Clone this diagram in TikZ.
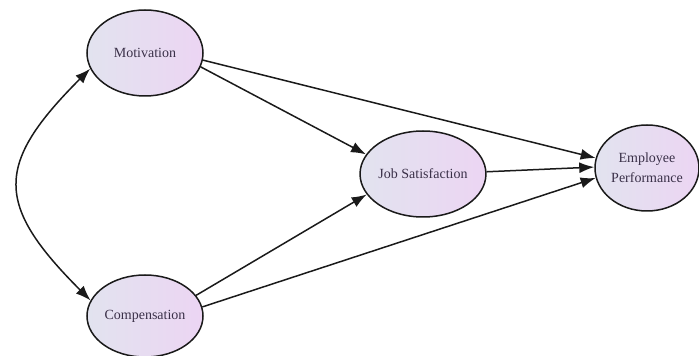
\documentclass[tikz,border=0pt]{standalone}
\usepackage{fontspec}
\setmainfont{Liberation Serif}
\usetikzlibrary{positioning, shapes.geometric, arrows.meta}
\definecolor{rim}{HTML}{1A1A1A}
\definecolor{fillL}{HTML}{E2E3EF}
\definecolor{fillR}{HTML}{ECD5F3}
\definecolor{label}{HTML}{3A3048}

\begin{document}
\begin{tikzpicture}[x=1pt, y=1pt,
    construct/.style={ellipse, draw=rim, line width=1.5pt, left color=fillL, right color=fillR,
                      minimum width=116pt, minimum height=86pt, inner sep=0pt, align=center,
                      text=label, font=\fontsize{14}{20}\selectfont},
    path/.style={draw=rim, line width=1.5pt, -{Latex[length=15pt, width=11pt]}}]
  \useasboundingbox (0,0) rectangle (699,356);

  % Constructs
  \node[construct] (mot) at (145,303) {Motivation};
  \node[construct, minimum height=82pt] (comp) at (145,40) {Compensation};
  \node[construct] (js) at (423,182) {Job Satisfaction};
  \node[construct, minimum width=104pt] (ep) at (647,188) {Employee\\Performance};

  % Correlation
  \draw[path, {Latex[length=15pt, width=11pt]}-{Latex[length=15pt, width=11pt]}]
    (mot.196) to[out=225, in=135, looseness=1.5] (comp.164);

  % Paths
  \draw[path] (mot.-14) -- (js.161);
  \draw[path] (mot.-7) -- (ep.169);
  \draw[path] (js.2) -- (ep.179);
  \draw[path] (comp.22) -- (js.200);
  \draw[path] (comp.9) -- (ep.191);
\end{tikzpicture}
\end{document}
